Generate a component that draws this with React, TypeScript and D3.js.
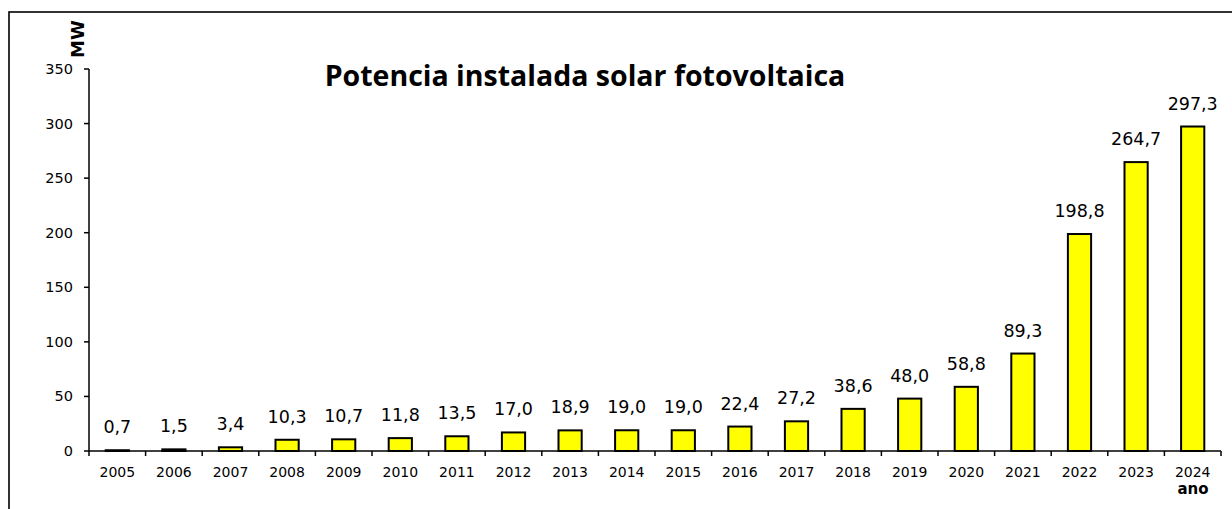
import React from "react";
import * as d3 from "d3";

const years = ["2005","2006","2007","2008","2009","2010","2011","2012","2013","2014","2015","2016","2017","2018","2019","2020","2021","2022","2023","2024"];
const values = [0.7,1.5,3.4,10.3,10.7,11.8,13.5,17.0,18.9,19.0,19.0,22.4,27.2,38.6,48.0,58.8,89.3,198.8,264.7,297.3];
const yTicks = [0,50,100,150,200,250,300,350];
const title = "Potencia instalada solar fotovoltaica";
const yLabel = "MW";
const xLabel = "ano";

const W = 1232, H = 509;
const left = 89, right = 1221, top = 69, bottom = 451;
const FONT = "'DejaVu Sans', Verdana, sans-serif";

export default function App() {
  const x = d3.scaleBand<string>().domain(years).range([left, right]).paddingInner(0.59).paddingOuter(0.295);
  const y = d3.scaleLinear().domain([0, 350]).range([bottom, top]);
  const step = x.step();
  const fmt = (v: number) => v.toFixed(1).replace(".", ",");
  return (
    <svg width={W} height={H} style={{ position: "absolute", left: 0, top: 0, background: "#fff" }}>
      <rect x={9} y={12} width={W} height={H} fill="none" stroke="#000" strokeWidth={1.6} />
      <text x={585} y={86} textAnchor="middle" fontFamily="'Open Sans', sans-serif" fontWeight="bold" fontSize={28.5}>{title}</text>
      <text transform={`translate(84,39) rotate(-90)`} textAnchor="middle" fontFamily={FONT} fontWeight="bold" fontSize={18}>{yLabel}</text>
      {/* y axis */}
      <line x1={left} x2={left} y1={top} y2={bottom} stroke="#000" strokeWidth={1.5} />
      {yTicks.map(t => (
        <g key={t}>
          <line x1={left - 5} x2={left} y1={y(t)} y2={y(t)} stroke="#000" strokeWidth={1.5} />
          <text x={73} y={y(t) + 5} textAnchor="end" fontFamily={FONT} fontSize={14.5}>{t}</text>
        </g>
      ))}
      {/* bars */}
      {years.map((yr, i) => (
        <g key={yr}>
          <rect x={x(yr)} y={y(values[i])} width={x.bandwidth()} height={bottom - y(values[i])} fill="#FFFF00" stroke="#000" strokeWidth={2} />
          <text x={(x(yr) as number) + x.bandwidth() / 2} y={y(values[i]) - 17} textAnchor="middle" fontFamily={FONT} fontSize={17.5}>{fmt(values[i])}</text>
          <text x={(x(yr) as number) + x.bandwidth() / 2} y={477} textAnchor="middle" fontFamily={FONT} fontSize={14}>{yr}</text>
        </g>
      ))}
      {/* x axis */}
      <line x1={left} x2={right} y1={bottom} y2={bottom} stroke="#000" strokeWidth={1.5} />
      {d3.range(years.length + 1).map(i => (
        <line key={i} x1={left + i * step} x2={left + i * step} y1={bottom} y2={bottom + 5} stroke="#000" strokeWidth={1.5} />
      ))}
      <text x={1193} y={494} textAnchor="middle" fontFamily={FONT} fontWeight="bold" fontSize={15}>{xLabel}</text>
    </svg>
  );
}
